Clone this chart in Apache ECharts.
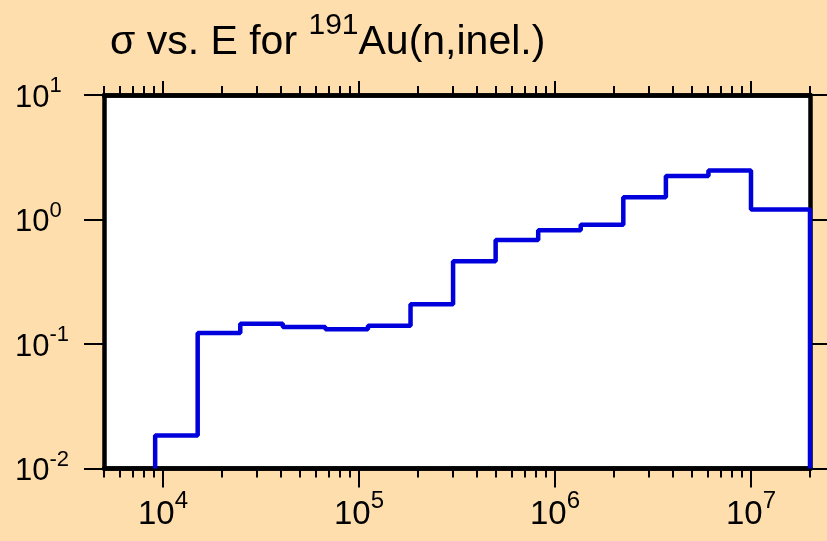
<!DOCTYPE html>
<html>
<head>
<meta charset="utf-8">
<script src="https://cdn.jsdelivr.net/npm/echarts@6/dist/echarts.min.js"></script>
<style>
  html, body { margin: 0; padding: 0; background: #ffdead; }
  #container { width: 827px; height: 541px; }
</style>
</head>
<body>
<div id="container"></div>
<script>
const container = document.getElementById('container');
const chartIns = echarts.init(container, undefined, { renderer: 'canvas' });

// group boundaries (eV) and cross section per group (b)
const edges = [9.119e3, 1.503e4, 2.479e4, 4.087e4, 6.738e4, 1.111e5, 1.832e5, 3.020e5,
  4.979e5, 8.209e5, 1.353e6, 2.231e6, 3.679e6, 6.065e6, 1.0e7, 2.0e7];
const sigma = [0.0184, 0.1225, 0.1453, 0.1368, 0.1311, 0.1401, 0.209, 0.461,
  0.683, 0.821, 0.907, 1.508, 2.237, 2.480, 1.202];

const xMajor = [1e4, 1e5, 1e6, 1e7];
const xMinor = [5e3, 6e3, 7e3, 8e3, 9e3,
  2e4, 3e4, 4e4, 5e4, 6e4, 7e4, 8e4, 9e4,
  2e5, 3e5, 4e5, 5e5, 6e5, 7e5, 8e5, 9e5,
  2e6, 3e6, 4e6, 5e6, 6e6, 7e6, 8e6, 9e6, 2e7];
const yMajor = [0.01, 0.1, 1, 10];

const X_MIN = 5e3, X_MAX = 2e7, Y_MIN = 0.01, Y_MAX = 10;
const FONT = '"Liberation Sans", Arial, Helvetica, sans-serif';

// step points: up from the floor, one level per group, down at the end
const stepData = [[edges[0], Y_MIN]];
sigma.forEach((v, i) => stepData.push([edges[i], v]));
stepData.push([edges[edges.length - 1], Y_MIN]);

const expo = v => Math.round(Math.log10(v));

function xAxisOf(pos, ticks, len, labels) {
  return {
    type: 'log', logBase: 10, position: pos, min: X_MIN, max: X_MAX,
    axisLine: { show: true, lineStyle: { color: '#000', width: 4.5 } },
    axisTick: { show: true, inside: false, length: len, customValues: ticks,
      lineStyle: { color: '#000', width: 2 } },
    minorTick: { show: false },
    splitLine: { show: false },
    axisLabel: labels ? {
      show: true, customValues: xMajor, margin: 30,
      fontFamily: FONT, color: '#000',
      formatter: v => '{b|10}{s|' + expo(v) + '}',
      rich: {
        b: { fontSize: 33, lineHeight: 33, fontFamily: FONT, color: '#000' },
        s: { fontSize: 24, lineHeight: 24, fontFamily: FONT, color: '#000', padding: [0, 0, 28, 0] }
      }
    } : { show: false }
  };
}

function yAxisOf(pos, labels) {
  return {
    type: 'log', logBase: 10, position: pos, min: Y_MIN, max: Y_MAX,
    axisLine: { show: true, lineStyle: { color: '#000', width: 4.5 } },
    axisTick: { show: true, inside: false, length: 20, customValues: yMajor,
      lineStyle: { color: '#000', width: 2 } },
    splitLine: { show: false },
    axisLabel: labels ? {
      show: true, customValues: yMajor, margin: 89, align: 'left',
      fontFamily: FONT, color: '#000',
      formatter: v => '{b|10}{s|' + expo(v) + '}',
      rich: {
        b: { fontSize: 31, lineHeight: 31, fontFamily: FONT, color: '#000', padding: [6, 0, 0, 0] },
        s: { fontSize: 22, lineHeight: 22, fontFamily: FONT, color: '#000', padding: [0, 0, 18, 0] }
      }
    } : { show: false }
  };
}

const option = {
  backgroundColor: '#ffdead',
  animation: false,
  title: {
    left: 110, top: 22, padding: 0,
    text: '{a|σ vs. E for }{s|191}{a|Au(n,inel.)}',
    textStyle: {
      fontSize: 41, fontWeight: 'normal', fontFamily: FONT, color: '#000',
      rich: {
        a: { fontSize: 41, lineHeight: 41, fontWeight: 'normal', fontFamily: FONT, color: '#000' },
        s: { fontSize: 30, lineHeight: 30, fontWeight: 'normal', fontFamily: FONT, color: '#000', padding: [0, 0, 34, 0] }
      }
    }
  },
  grid: {
    left: 104, right: 17, top: 95, bottom: 71,
    show: true, backgroundColor: '#fff', borderWidth: 0
  },
  xAxis: [
    xAxisOf('bottom', xMajor, 19, true),
    xAxisOf('bottom', xMinor, 9, false),
    xAxisOf('top', xMajor, 14, false),
    xAxisOf('top', xMinor, 9, false)
  ],
  yAxis: [
    yAxisOf('left', true),
    yAxisOf('right', false)
  ],
  series: [{
    type: 'line',
    xAxisIndex: 0,
    yAxisIndex: 0,
    step: 'end',
    symbol: 'none',
    clip: false,
    lineStyle: { color: '#0000dd', width: 4.5 },
    data: stepData
  }]
};

chartIns.setOption(option);
</script>
</body>
</html>
